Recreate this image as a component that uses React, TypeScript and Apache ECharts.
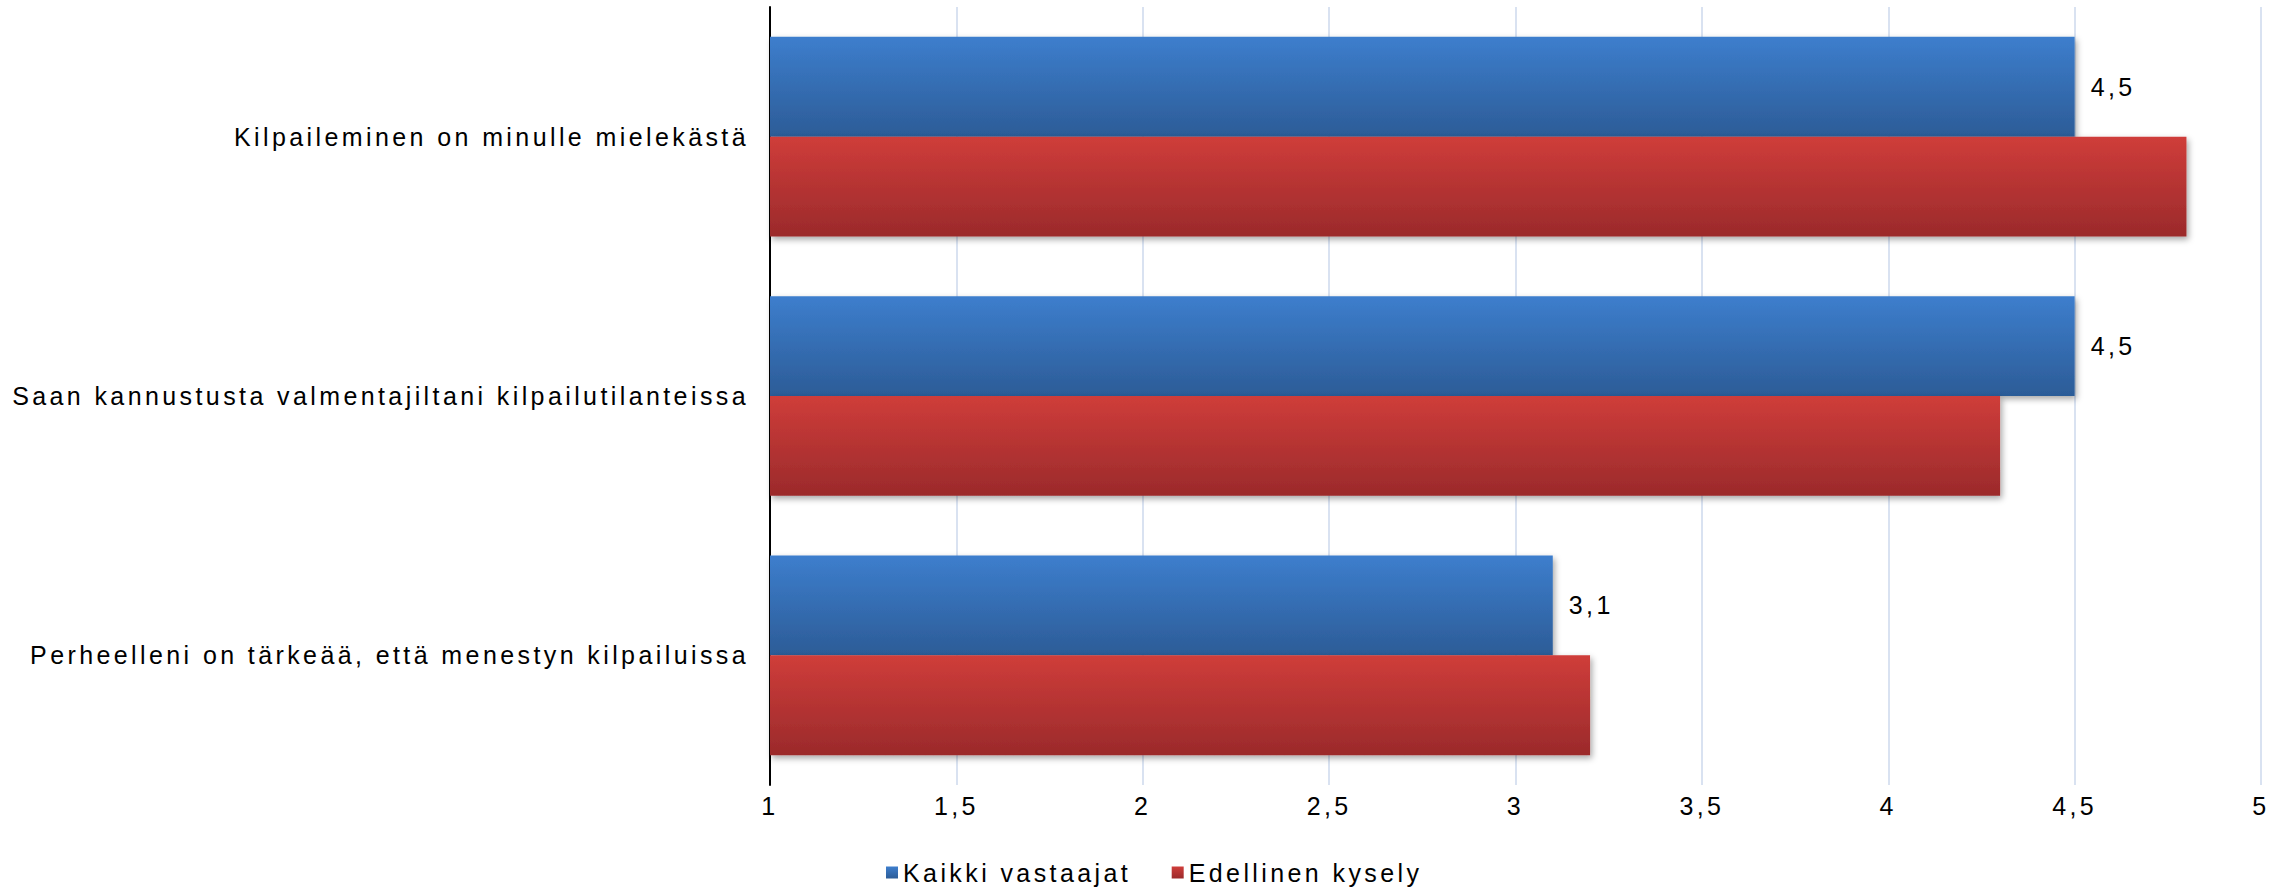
import React, { useEffect, useRef } from "react";
import * as echarts from "echarts";

const categories = [
  "Kilpaileminen on minulle mielekästä",
  "Saan kannustusta valmentajiltani kilpailutilanteissa",
  "Perheelleni on tärkeää, että menestyn kilpailuissa",
];
const seriesNames = ["Kaikki vastaajat", "Edellinen kysely"];
const kaikkiVastaajat = [4.5, 4.5, 3.1];
const edellinenKysely = [4.8, 4.3, 3.2];
const axisMin = 1;
const axisMax = 5;
const axisInterval = 0.5;

const FONT = "'Liberation Sans', Arial, sans-serif";
const FS = 25;

const grad = (top: string, bottom: string) =>
  new echarts.graphic.LinearGradient(0, 0, 0, 1, [
    { offset: 0, color: top },
    { offset: 1, color: bottom },
  ]);

const fmt = (v: number) => String(v).replace(".", ",");

export default function App() {
  const ref = useRef<HTMLDivElement>(null);
  useEffect(() => {
    if (!ref.current) return;
    const chart = echarts.init(ref.current, undefined, { renderer: "svg" });
    const blue = grad("#3D7ECD", "#2C5C97");
    const red = grad("#CF3D3A", "#9B2A2B");
    const shadow = {
      shadowColor: "rgba(0,0,0,0.35)",
      shadowBlur: 6,
      shadowOffsetX: 2,
      shadowOffsetY: 3,
    };
    chart.setOption({
      animation: false,
      backgroundColor: "#ffffff",
      textStyle: { fontFamily: FONT },
      grid: { left: 770, right: 31, top: 7, bottom: 107, containLabel: false },
      legend: {
        data: seriesNames,
        bottom: 2,
        left: 881,
        itemWidth: 12,
        itemHeight: 12,
        itemGap: 95,
        icon: "rect",
        textStyle: { fontSize: FS, color: "#000", fontFamily: FONT },
      },
      xAxis: {
        type: "value",
        min: axisMin,
        max: axisMax,
        interval: axisInterval,
        axisLine: { show: false },
        axisTick: { show: false },
        splitLine: { show: true, lineStyle: { color: "#D9E2F1", width: 2 } },
        axisLabel: {
          fontSize: FS,
          color: "#000",
          margin: 8,
          formatter: (v: number) => fmt(v),
        },
      },
      yAxis: {
        type: "category",
        inverse: true,
        data: categories,
        axisLine: { show: true, lineStyle: { color: "#000", width: 2 } },
        axisTick: { show: false },
        axisLabel: { fontSize: FS, color: "#000", margin: 21 },
      },
      series: [
        {
          name: seriesNames[0],
          type: "bar",
          data: kaikkiVastaajat,
          barCategoryGap: "23%",
          barGap: "0%",
          itemStyle: { color: blue, ...shadow },
          label: {
            show: true,
            position: "right",
            distance: 16,
            fontSize: FS,
            color: "#000",
            formatter: (p: any) => fmt(p.value),
          },
        },
        {
          name: seriesNames[1],
          type: "bar",
          data: edellinenKysely,
          barCategoryGap: "23%",
          barGap: "0%",
          itemStyle: { color: red, ...shadow },
        },
      ],
    });
    return () => chart.dispose();
  }, []);
  return (
    <div
      ref={ref}
      style={{
        position: "fixed",
        left: 0,
        top: 0,
        width: 2292,
        height: 892,
        letterSpacing: "3.4px",
      }}
    />
  );
}
